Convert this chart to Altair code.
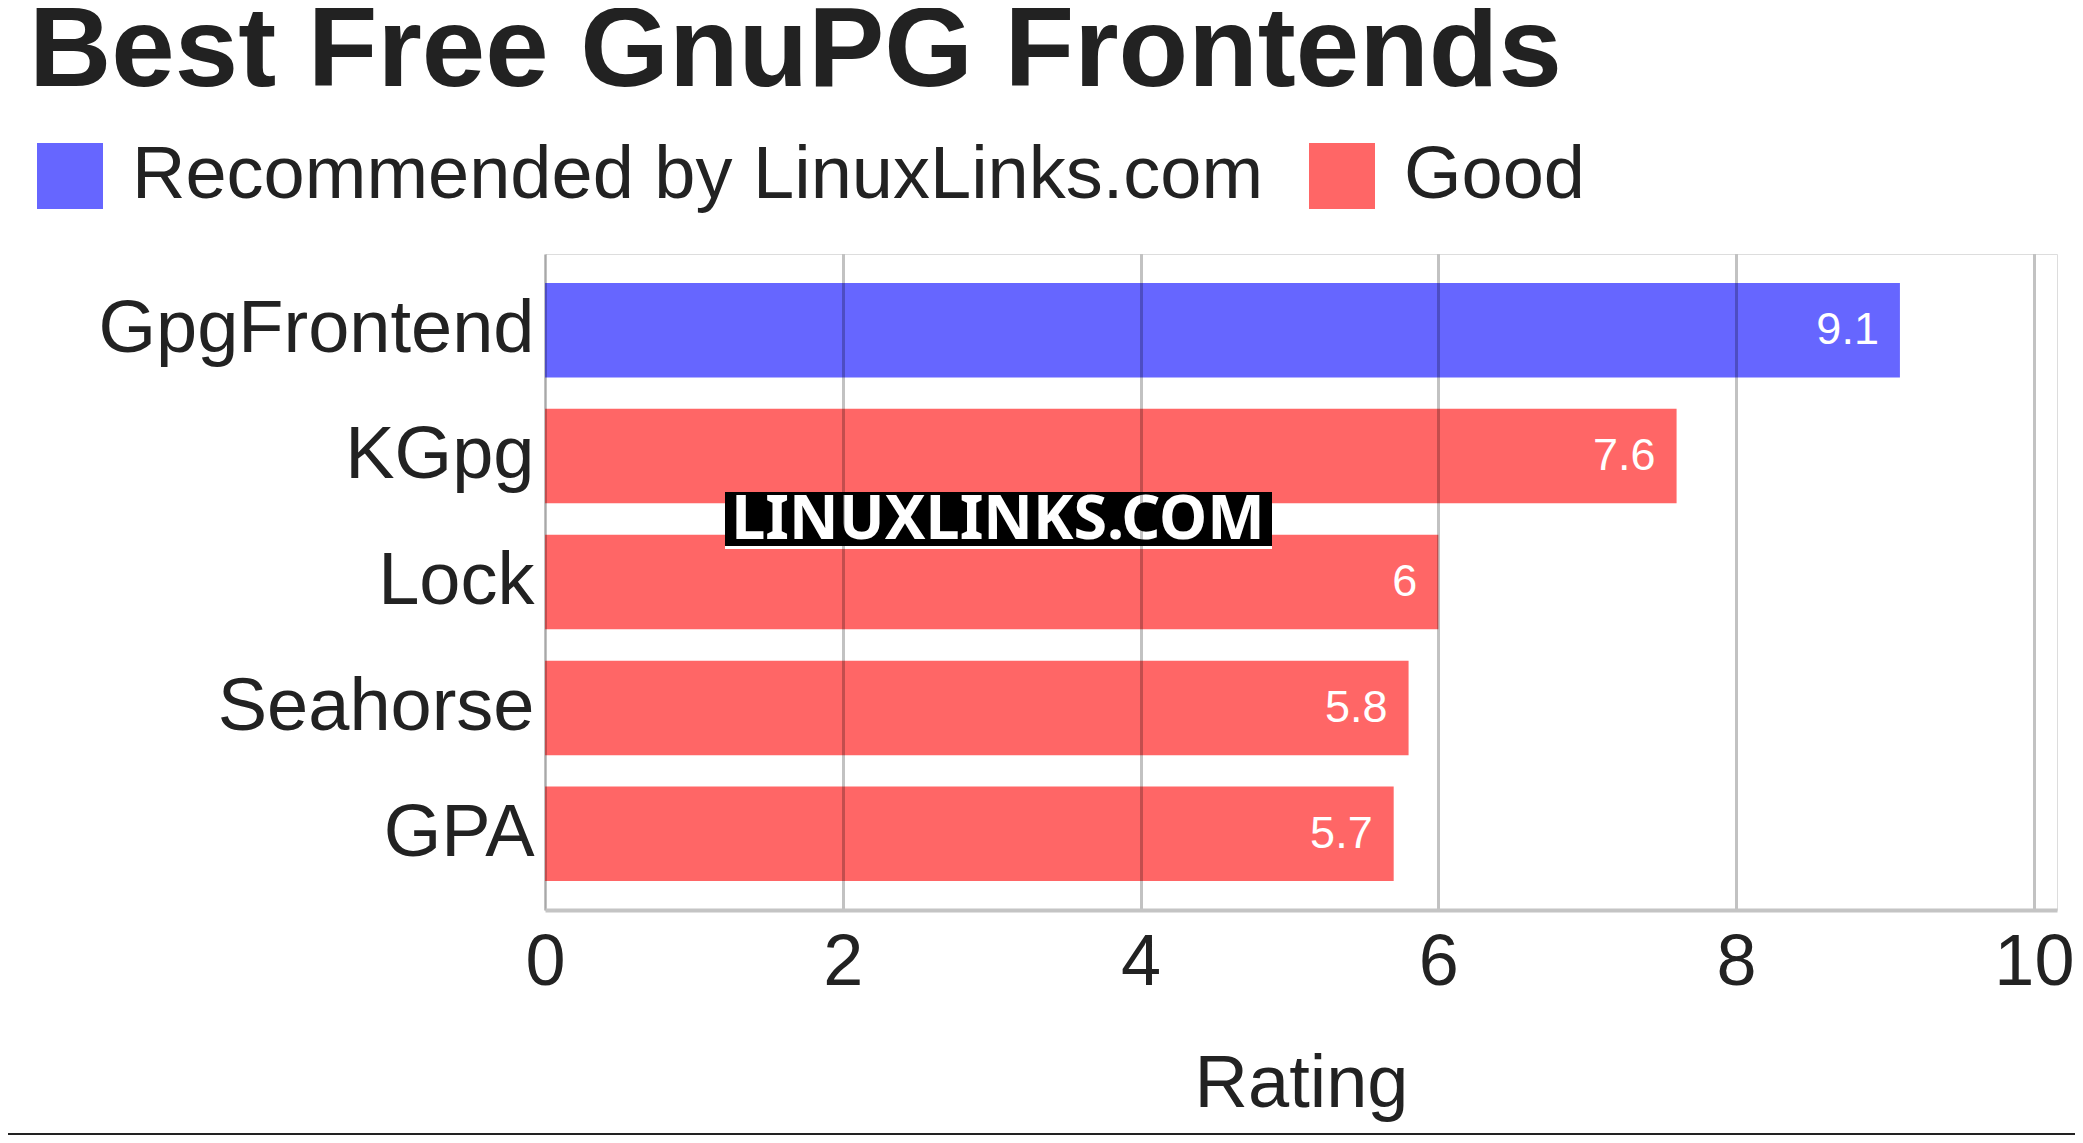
import altair as alt
import pandas as pd

# ---- data ----
names = ["GpgFrontend", "KGpg", "Lock", "Seahorse", "GPA"]
ratings = [9.1, 7.6, 6.0, 5.8, 5.7]
groups = ["Recommended by LinuxLinks.com", "Good", "Good", "Good", "Good"]
legend_domain = ["Recommended by LinuxLinks.com", "Good"]
legend_colors = ["#6666ff", "#ff6666"]
x_ticks = [0, 2, 4, 6, 8, 10]
title_text = "Best Free GnuPG Frontends"
axis_title = "Rating"
watermark = ["LINUXLINKS.COM"]

df = pd.DataFrame({"name": names, "rating": ratings, "group": groups})
wm = pd.DataFrame({"t": watermark})

FONT = "Liberation Sans"
TXT = "#222222"

x_enc = alt.X(
    "rating:Q",
    scale=alt.Scale(domain=[0, 10.155], nice=False, zero=True),
    axis=alt.Axis(
        values=x_ticks, format="d", title=axis_title, grid=True, gridColor="#000000",
        gridOpacity=0.24, gridWidth=3, domainColor="#c4c4c4", domainWidth=4,
        ticks=False, labelFontSize=72, labelFont=FONT, labelColor=TXT,
        labelPadding=17, titleFontSize=74, titleFont=FONT, titleColor=TXT,
        titleFontWeight="normal", titlePadding=50, zindex=1, labelFlush=False,
    ),
)
y_enc = alt.Y(
    "name:N", sort=names,
    scale=alt.Scale(paddingInner=0.25, paddingOuter=0.23),
    axis=alt.Axis(title=None, domain=False, ticks=False, grid=False,
                  labelFontSize=74, labelFont=FONT, labelColor=TXT,
                  labelPadding=11, labelLimit=0),
)

bars = alt.Chart(df).mark_bar().encode(
    x=x_enc,
    y=y_enc,
    color=alt.Color(
        "group:N",
        scale=alt.Scale(domain=legend_domain, range=legend_colors),
        legend=alt.Legend(
            orient="none", legendX=-512, legendY=-115, direction="horizontal",
            title=None, symbolType="square", symbolSize=4356,
            symbolStrokeWidth=0, symbolOpacity=1, labelFontSize=74,
            labelFont=FONT, labelColor=TXT, labelOffset=25, columnPadding=41,
            padding=0, labelLimit=0,
        ),
    ),
)

labels = alt.Chart(df).mark_text(
    align="right", baseline="middle", dx=-21, fontSize=45, font=FONT, color="white"
).encode(
    x=alt.X("rating:Q"),
    y=alt.Y("name:N", sort=names),
    text=alt.Text("rating:Q", format=".1~f"),
)

wm_box = alt.Chart(wm).mark_rect(color="black").encode(
    x=alt.value(180), x2=alt.value(727), y=alt.value(238), y2=alt.value(292)
)
wm_line = alt.Chart(wm).mark_rect(color="white").encode(
    x=alt.value(180), x2=alt.value(727), y=alt.value(292), y2=alt.value(295)
)
wm_text = alt.Chart(wm).mark_text(
    font="Noto Sans", fontWeight="bold", fontSize=61, color="white",
    align="center", baseline="middle"
).encode(x=alt.value(453), y=alt.value(267), text="t:N")

bottom_rule = alt.Chart(wm).mark_rule(color="#222222", strokeWidth=3).encode(
    x=alt.value(-537), x2=alt.value(1530), y=alt.value(880.5)
)

chart = alt.layer(bars, labels, wm_box, wm_line, wm_text, bottom_rule).properties(
    width=1512,
    height=656,
    title=alt.TitleParams(
        text=title_text, anchor="start", frame="group", dx=-516,
        fontSize=114, font=FONT, fontWeight="bold", color=TXT, offset=29,
    ),
    autosize=alt.AutoSizeParams(type="none"),
    padding={"left": 537, "top": 246, "right": 18, "bottom": 225},
).configure_view(stroke=None).configure(background="white")

chart.save("out.html", embed_options={"renderer": "svg", "actions": False})
